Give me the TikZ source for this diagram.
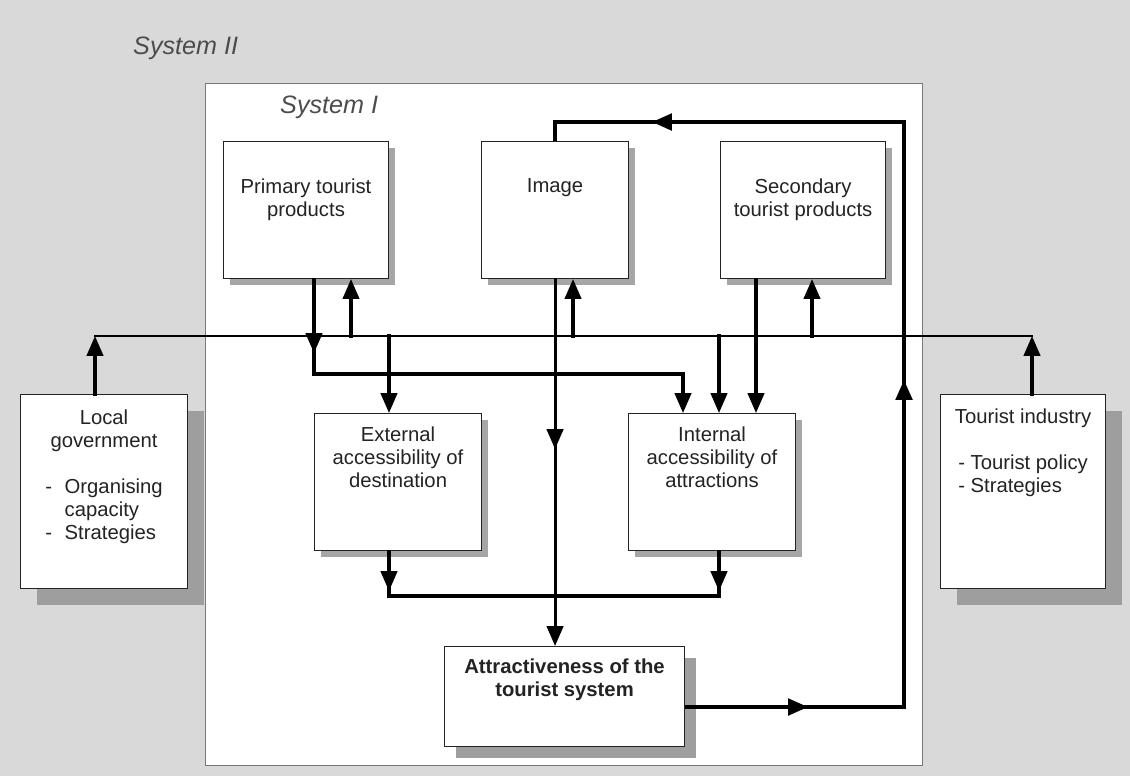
\documentclass[tikz,border=0pt]{standalone}
\usepackage{fontspec}
\setmainfont{Liberation Sans}
\usetikzlibrary{arrows.meta,positioning,shadows,decorations.markings}

\definecolor{bggray}{RGB}{217,217,217}
\definecolor{framegray}{RGB}{120,120,120}
\definecolor{inkgray}{RGB}{35,35,35}

\tikzset{
  boxbase/.style={draw=inkgray, line width=0.9pt, fill=white, anchor=north west, inner sep=0pt},
  box/.style={boxbase, drop shadow={shadow xshift=0.18cm, shadow yshift=-0.18cm, fill=black!35, opacity=1}},
  midbox/.style={boxbase, drop shadow={shadow xshift=0.33cm, shadow yshift=-0.33cm, fill=black!38, opacity=1}},
  bigbox/.style={boxbase, drop shadow={shadow xshift=0.48cm, shadow yshift=-0.48cm, fill=black!38, opacity=1}},
  sysbox/.style={draw=framegray, line width=1.2pt, fill=white, anchor=north west, inner sep=0pt},
  txt/.style={inner sep=0pt, align=center, text=inkgray, font=\fontsize{17.3}{19.6}\selectfont},
  syslabel/.style={inner sep=0pt, anchor=west, text=black!70, font=\fontsize{21.5}{24}\selectfont\itshape},
  link/.style={line width=2.6pt, line cap=rect},
  bus/.style={line width=1.9pt, line cap=rect},
  loopline/.style={line width=3.2pt},
  tipat/.style={postaction={decorate, decoration={markings, mark=at position #1 with {\arrow{>}}}}}
}

\begin{document}
\begin{tikzpicture}[x=0.03cm, y=-0.03cm, >={Triangle[width=14pt,length=17pt]}]
  \fill[bggray] (0,0) rectangle (1130,776);
  \useasboundingbox (0,0) rectangle (1130,776);

  \node[syslabel] (sys2) at (133,48) {System II};
  \node[sysbox, minimum width=21.51cm, minimum height=20.46cm] (sys1) at (205,83) {};
  \node[syslabel] (sys1lbl) at (280,107) {System I};

  % system I
  \node[box, minimum width=4.95cm, minimum height=4.11cm] (prim) at (223,141) {};
  \node[box, minimum width=4.41cm, minimum height=4.11cm] (img)  at (481,141) {};
  \node[box, minimum width=4.95cm, minimum height=4.11cm] (sec)  at (720,141) {};
  \node[box, minimum width=5.01cm, minimum height=4.11cm] (ext)  at (314,413) {};
  \node[box, minimum width=5.01cm, minimum height=4.11cm] (intl) at (628,413) {};
  \node[midbox, minimum width=7.2cm, minimum height=3.0cm] (attr) at (444,646) {};

  \node[txt, below=1.14cm of prim.north] (primT) {Primary tourist\\products};
  \node[txt, below=1.11cm of img.north]  (imgT)  {Image};
  \node[txt, below=1.14cm of sec.north]  (secT)  {Secondary\\tourist products};
  \node[txt, below=0.42cm of ext.north]  (extT)  {External\\accessibility of\\destination};
  \node[txt, below=0.42cm of intl.north] (intlT) {Internal\\accessibility of\\attractions};
  \node[txt, font=\fontsize{17.3}{19.6}\selectfont\bfseries, below=0.39cm of attr.north] (attrT) {Attractiveness of the\\tourist system};

  % system II
  \node[bigbox, minimum width=5.01cm, minimum height=5.82cm] (local) at (20,394) {};
  \node[bigbox, minimum width=4.95cm, minimum height=5.82cm] (tour)  at (940,394) {};
  \node[txt, below=0.48cm of local.north] (localT) {Local\\government\\[19.6pt]\begin{tabular}[t]{@{}l@{\hspace{0.38cm}}l@{}}-&Organising\\&capacity\\-&Strategies\end{tabular}};
  \node[txt, below=0.45cm of tour.north] (tourT) {Tourist industry\\[19.6pt]\begin{tabular}[t]{@{}l@{}}- Tourist policy\\- Strategies\end{tabular}};

  \coordinate (busL) at (95,336);
  \coordinate (busR) at (1032,336);
  \coordinate (b1) at (314,336);
  \coordinate (b2) at (351,336);
  \coordinate (b3) at (389,336);
  \coordinate (b5) at (573,336);
  \coordinate (b6) at (719,336);
  \coordinate (b7) at (756,336);
  \coordinate (b8) at (812,336);
  \coordinate (j1) at (314,374);
  \coordinate (j2) at (683,374);
  \coordinate (k1) at (389,596);
  \coordinate (k2) at (719,596);
  \coordinate (f1) at (904,707);
  \coordinate (f2) at (904,122);

  \draw[bus] (busL) -- (busR);
  \draw[link,->] (local.north -| busL) -- (busL);
  \draw[link,->] (tour.north -| busR) -- (busR);

  \draw[link,->] (b2) -- (prim.south -| b2);
  \draw[link,->] (b5) -- (img.south -| b5);
  \draw[link,->] (b8) -- (sec.south -| b8);
  \draw[link,->] (b3) -- (ext.north -| b3);
  \draw[link,->] (b6) -- (intl.north -| b6);
  \draw[link,->] (sec.south -| b7) -- (intl.north -| b7);
  \draw[link,->,tipat=2.22cm] (prim.south -| b1) -- (j1) -- (j2) -- (intl.north -| j2);
  \draw[link,->,tipat=5.1cm] (img.south) -- (img.south |- attr.north);

  \draw[link,tipat=1.2cm] (ext.south -| k1) -- (k1) -- (k2);
  \draw[link,tipat=1.2cm] (intl.south -| k2) -- (k2);

  \draw[loopline,tipat=3.69cm,tipat=16.38cm,tipat=31.68cm]
    (attr.east |- f1) -- (f1) -- (f2) -- (f2 -| img.north) -- (img.north);
\end{tikzpicture}
\end{document}
